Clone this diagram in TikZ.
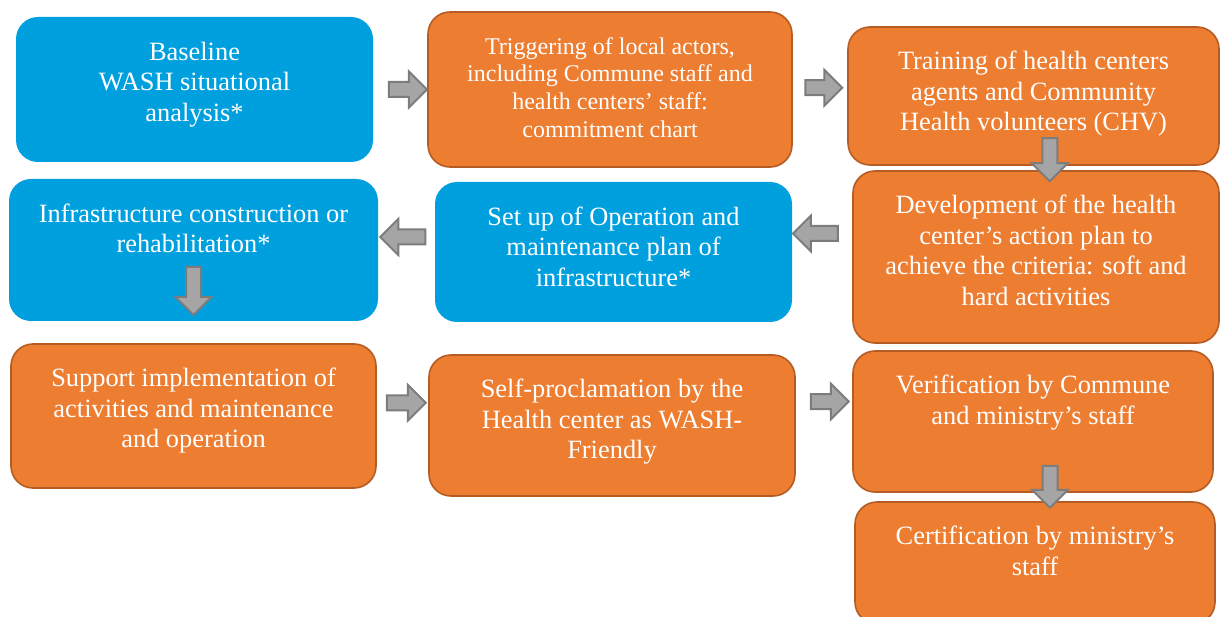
\documentclass[tikz,border=0pt]{standalone}
\usepackage{fontspec}
\setmainfont{Liberation Serif}
\usetikzlibrary{shapes.arrows,calc}
\definecolor{washblue}{RGB}{0,160,223}
\definecolor{steporange}{RGB}{237,125,49}
\definecolor{orangeline}{RGB}{180,92,36}
\definecolor{arrowfill}{RGB}{165,165,165}
\definecolor{arrowline}{RGB}{124,124,124}

\begin{document}
\begin{tikzpicture}[x=1pt,y=-1pt,
  bluebox/.style={rectangle,rounded corners=22pt,fill=washblue,inner sep=0pt},
  orangebox/.style={rectangle,rounded corners=22pt,fill=steporange,draw=orangeline,line width=1.6pt,inner sep=0pt},
  boxtext/.style={anchor=north,align=center,text=white,inner sep=0pt,font=\fontsize{26.4}{30.4}\selectfont},
  blockarrow/.style={single arrow,draw=arrowline,fill=arrowfill,line width=2pt,inner xsep=0pt,inner ysep=6.5pt,
    single arrow head extend=10.5pt,minimum height=38pt}]
\clip (0,0) rectangle (1220,617);
% boxes
\node[bluebox,minimum width=357pt,minimum height=145pt] (base) at (194.5,89.5) {};
\node[orangebox,minimum width=364pt,minimum height=155pt] (trigger) at (610,89.5) {};
\node[orangebox,minimum width=371pt,minimum height=138pt] (train) at (1033.5,96) {};
\node[bluebox,minimum width=369pt,minimum height=142pt] (infra) at (193.5,250) {};
\node[bluebox,minimum width=357pt,minimum height=140pt] (setup) at (613.5,252) {};
\node[orangebox,minimum width=366pt,minimum height=172pt] (devel) at (1036,257) {};
\node[orangebox,minimum width=365pt,minimum height=144pt] (support) at (193.5,416) {};
\node[orangebox,minimum width=366pt,minimum height=141pt] (selfproc) at (612,425.5) {};
\node[orangebox,minimum width=360pt,minimum height=141pt] (verif) at (1033,421.5) {};
\node[orangebox,minimum width=360pt,minimum height=122pt] (certif) at (1035,563) {};
% texts
\node[boxtext] (base-t) at ([yshift=-25pt]base.north) {Baseline\\WASH situational\\analysis*};
\node[boxtext,font=\fontsize{24}{27.6}\selectfont] (trigger-t) at ([yshift=-26pt]trigger.north)
  {Triggering of local actors,\\including Commune staff and\\health centers’ staff:\\commitment chart};
\node[boxtext] (train-t) at ([yshift=-25pt]train.north) {Training of health centers\\agents and Community\\Health volunteers (CHV)};
\node[boxtext] (infra-t) at ([yshift=-25pt]infra.north) {Infrastructure construction or\\rehabilitation*};
\node[boxtext] (setup-t) at ([yshift=-25pt]setup.north) {Set up of Operation and\\maintenance plan of\\infrastructure*};
\node[boxtext] (devel-t) at ([yshift=-25pt]devel.north) {Development of the health\\center’s action plan to\\achieve the criteria: soft and\\hard activities};
\node[boxtext] (support-t) at ([yshift=-25pt]support.north) {Support implementation of\\activities and maintenance\\and operation};
\node[boxtext] (selfproc-t) at ([yshift=-25pt]selfproc.north) {Self-proclamation by the\\Health center as WASH-\\Friendly};
\node[boxtext] (verif-t) at ([yshift=-25pt]verif.north) {Verification by Commune\\and ministry’s staff};
\node[boxtext] (certif-t) at ([yshift=-25pt]certif.north) {Certification by ministry’s\\staff};
% arrows
\node[blockarrow] (a1) at ($(base.east)!.5!(trigger.west)+(4,0)$) {};
\node[blockarrow,minimum height=37pt] (a2) at ($(trigger.east)!.5!(train.west)+(0,-5)$) {};
\node[blockarrow,rotate=-90,minimum height=43pt] (a3) at ($(train.south)!.5!(devel.north)+(15,-12)$) {};
\node[blockarrow,rotate=180,minimum height=45pt] (a4) at ($(devel.west)!.5!(setup.east)+(-3,-21)$) {};
\node[blockarrow,rotate=180,minimum height=45pt] (a5) at ($(setup.west)!.5!(infra.east)+(0,-14)$) {};
\node[blockarrow,rotate=-90,minimum height=48pt] (a6) at ($(infra.south)!.5!(support.north)+(0,-45)$) {};
\node[blockarrow,minimum height=39pt] (a7) at ($(support.east)!.5!(selfproc.west)+(0,-18)$) {};
\node[blockarrow] (a8) at ($(selfproc.east)!.5!(verif.west)+(2,-22)$) {};
\node[blockarrow,rotate=-90,minimum height=42pt] (a9) at ($(verif.south)!.5!(certif.north)+(16,-14)$) {};
\end{tikzpicture}
\end{document}
